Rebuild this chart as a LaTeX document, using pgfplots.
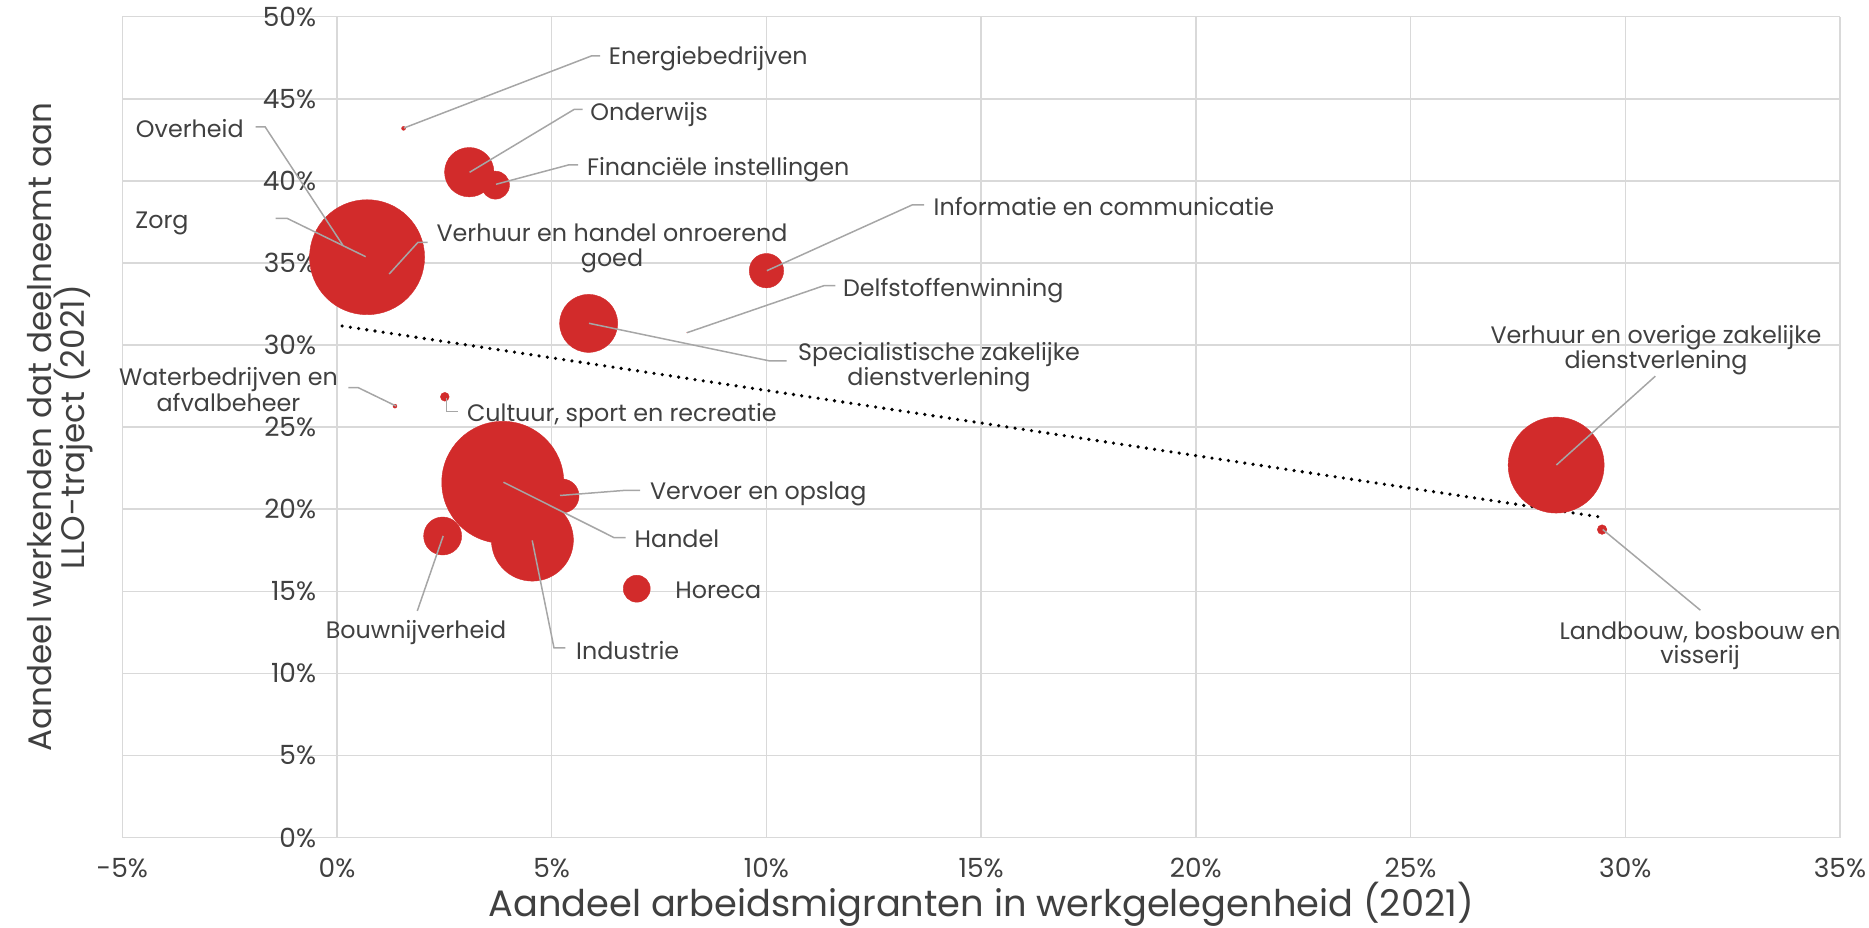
\documentclass[border=0pt]{standalone}
\usepackage{pgfplots}
\usepackage{pgfplotstable}
\pgfplotsset{compat=1.18}
\usepackage{fontspec}
\setmainfont{Poppins}
\definecolor{bred}{RGB}{210,43,43}
\definecolor{txt}{RGB}{64,64,64}
\definecolor{gridc}{RGB}{217,217,217}
\definecolor{lead}{RGB}{166,166,166}

% x = share of labour migrants (%), y = share in LLO (%), r = bubble radius (pt)
\pgfplotstableread{
x y r
1.55 43.2 1.0
3.08 40.53 12.35
3.69 39.74 7.0
0.12 36.1 10
0.70 35.35 28.75
1.2 34.3 5
10.0 34.53 8.6
5.86 31.32 14.5
8.14 30.75 0.01
1.35 26.28 1.0
2.51 26.85 2.2
3.86 21.64 30.5
5.24 20.81 8.5
4.55 18.12 20.5
2.46 18.37 9.5
6.98 15.16 6.75
28.39 22.69 24
29.46 18.76 2.4
}\bubbles

\newcommand{\lf}{\fontsize{11.9}{12}\selectfont}
\newcommand{\tf}{\fontsize{13.2}{13.2}\selectfont}

\begin{document}
\begin{tikzpicture}
\path[use as bounding box] (-61.15pt,-44.7pt) rectangle (873.35pt,418.8pt);
\begin{axis}[
  at={(0,0)}, anchor=south west,
  scale only axis, width=858.85pt, height=410.45pt,
  xmin=-5, xmax=35, ymin=0, ymax=50,
  xtick={-5,0,...,35}, ytick={0,5,...,50},
  xticklabels={-5\%,0\%,5\%,10\%,15\%,20\%,25\%,30\%,35\%},
  yticklabels={0\%,5\%,10\%,15\%,20\%,25\%,30\%,35\%,40\%,45\%,50\%},
  grid=major, major grid style={gridc, line width=0.75pt},
  axis line style={draw=none},
  major tick length=0pt,
  tick label style={font=\tf, text=txt},
  xticklabel style={anchor=north, inner sep=0pt, yshift=-10.2pt},
  yticklabel style={anchor=east, inner sep=0pt, xshift=97.1pt},
  xlabel={Aandeel arbeidsmigranten in werkgelegenheid (2021)},
  xlabel style={at={(axis description cs:0.5,-0.0955)}, anchor=base, inner sep=0pt,
    font=\fontsize{18.4}{18.4}\selectfont, text=txt},
  ylabel={Aandeel werkenden dat deelneemt aan\\LLO-traject (2021)},
  ylabel style={at={(axis description cs:-0.01706,0.5)}, anchor=south, inner sep=0pt,
    align=center, font=\fontsize{16.3}{16.3}\selectfont, text=txt},
  clip=false,
]
\addplot[scatter, only marks, mark=*,
  point meta=\thisrow{r},
  scatter/use mapped color={draw=bred, fill=bred},
  mark options={line width=0.2pt},
  visualization depends on={\thisrow{r}\as\rad},
  scatter/@pre marker code/.append style={/tikz/mark size=\rad}]
  table[x=x,y=y] {\bubbles};
\addplot[black, line width=1.8pt, line cap=round, dash pattern=on 0pt off 4.15pt]
  coordinates {(0.12,31.16) (29.46,19.51)};
\end{axis}
\begin{scope}[x=0.5pt, y=-0.5pt, shift={(-61.15pt,418.8pt)}]
\begin{scope}[lead, line width=0.75pt]
\draw (404,128)--(591.3,56)--(600,56);
\draw (469.6,172.3)--(574,109.5)--(582.7,109.5);
\draw (496,184.3)--(568.3,165)--(578,165);
\draw (255.5,127)--(265.2,127)--(342.7,245);
\draw (275.5,218.3)--(287,218.3)--(365.7,256.7);
\draw (427.7,242.3)--(418,242.3)--(389.2,274);
\draw (766.9,270.7)--(912,205)--(924,205);
\draw (687,332.7)--(823.8,285.7)--(835.3,285.7);
\draw (589,323.3)--(770,361)--(786.7,361);
\draw (1556.4,465)--(1655.3,376.2);
\draw (1602.7,529.5)--(1700.4,610.2);
\draw (348.3,387.7)--(358.3,387.7)--(396,406);
\draw (446.7,398)--(446.7,411.7)--(458.3,411.7);
\draw (560,495.5)--(623,490.5)--(640,490.5);
\draw (503.4,482.2)--(614.2,537.7)--(625.7,537.7);
\draw (443.2,535.9)--(417.3,610.9);
\draw (532.2,540.4)--(554,647.9)--(565.4,647.9);
\end{scope}
\begin{scope}[every node/.style={inner sep=0pt, text=txt, font=\lf}]
\node[anchor=base west] at (608.5,65) {Energiebedrijven};
\node[anchor=base west] at (590,120.7) {Onderwijs};
\node[anchor=base west] at (586.7,175.7) {Financiële instellingen};
\node[anchor=base east] at (244,137.7) {Overheid};
\node[anchor=base west] at (135,228.5) {Zorg};
\node[anchor=base] at (612,241.4) {Verhuur en handel onroerend};
\node[anchor=base] at (612,266.5) {goed};
\node[anchor=base west] at (933.3,215.5) {Informatie en communicatie};
\node[anchor=base west] at (842.7,296.3) {Delfstoffenwinning};
\node[anchor=base] at (939,360.6) {Specialistische zakelijke};
\node[anchor=base] at (939,385.7) {dienstverlening};
\node[anchor=base] at (1656,344) {Verhuur en overige zakelijke};
\node[anchor=base] at (1656,369) {dienstverlening};
\node[anchor=base] at (1700,639.6) {Landbouw, bosbouw en};
\node[anchor=base] at (1700,664) {visserij};
\node[anchor=base] at (228.5,385.5) {Waterbedrijven en};
\node[anchor=base] at (228.5,411.5) {afvalbeheer};
\node[anchor=base west] at (466.7,421.5) {Cultuur, sport en recreatie};
\node[anchor=base west] at (649.6,500) {Vervoer en opslag};
\node[anchor=base west] at (634.3,547.7) {Handel};
\node[anchor=base west] at (675,598.5) {Horeca};
\node[anchor=base] at (416,638.4) {Bouwnijverheid};
\node[anchor=base west] at (575.8,659.3) {Industrie};
\end{scope}
\end{scope}
\end{tikzpicture}
\end{document}
